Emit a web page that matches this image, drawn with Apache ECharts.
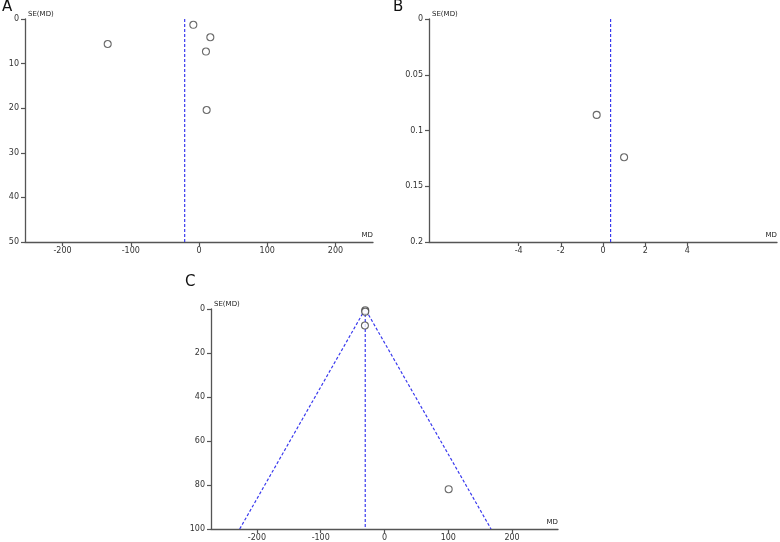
<!DOCTYPE html>
<html>
<head>
<meta charset="utf-8">
<script src="https://cdn.jsdelivr.net/npm/echarts@6/dist/echarts.min.js"></script>
<style>
  html, body { margin: 0; padding: 0; background: #fff; }
  #chart { width: 780px; height: 542px; }
</style>
</head>
<body>
<div id="chart"></div>
<script>
// panel A: [MD, SE(MD)]
var pointsA = [[-8.3, 1.3], [16.6, 4.1], [10.2, 7.3], [11.2, 20.4], [-133.8, 5.6]];
var meanA = [[-21, 0], [-21, 50]];
var ticksA = [-200, -100, 0, 100, 200];

// panel B
var pointsB = [[-0.3, 0.086], [1.0, 0.124]];
var meanB = [[0.36, 0], [0.36, 0.2]];
var ticksB = [-4, -2, 0, 2, 4];

// panel C
var pointsC = [[-30.2, 0.6], [-30.2, 1.2], [-30.7, 7.5], [100.6, 81.9]];
var meanC = [[-30.2, 0], [-30.2, 100]];
var funnelC = [[-227, 100], [-30.2, 0], [167, 100]];
var ticksC = [-200, -100, 0, 100, 200];

var myChart = echarts.init(document.getElementById('chart'));

var font = 'DejaVu Sans';
var axisColor = '#555';

function xAx(idx, min, max, ticks) {
  return {
    type: 'value', gridIndex: idx, min: min, max: max,
    name: 'MD', nameLocation: 'end', nameGap: 0,
    nameTextStyle: { align: 'right', verticalAlign: 'bottom', padding: [0, 0, 3, 0], fontSize: 7, fontFamily: font, color: '#222' },
    axisLine: { onZero: false, lineStyle: { color: axisColor, width: 1.3 } },
    axisTick: { show: true, length: 4, customValues: ticks, lineStyle: { color: axisColor, width: 1.2 } },
    axisLabel: { customValues: ticks, fontSize: 8, fontFamily: font, color: '#333', margin: 5 },
    splitLine: { show: false }
  };
}

function yAx(idx, max, interval) {
  return {
    type: 'value', gridIndex: idx, min: 0, max: max, interval: interval, inverse: true,
    name: 'SE(MD)', nameLocation: 'start', nameGap: 1,
    nameTextStyle: { align: 'left', verticalAlign: 'bottom', padding: [0, 0, 0, 3], fontSize: 7, fontFamily: font, color: '#222' },
    axisLine: { show: true, onZero: false, lineStyle: { color: axisColor, width: 1.3 } },
    axisTick: { show: true, length: 4, lineStyle: { color: axisColor, width: 1.2 } },
    axisLabel: { fontSize: 8, fontFamily: font, color: '#333', margin: 6 },
    splitLine: { show: false }
  };
}

function dashed(idx, data) {
  return {
    type: 'line', xAxisIndex: idx, yAxisIndex: idx, data: data,
    symbol: 'none', silent: true, z: 1,
    lineStyle: { color: '#3a3aee', width: 1.2, type: [3, 2] }
  };
}

function dots(idx, data) {
  return {
    type: 'scatter', xAxisIndex: idx, yAxisIndex: idx, data: data,
    symbol: 'circle', symbolSize: 7, z: 5,
    itemStyle: { color: '#fff', borderColor: '#444', borderWidth: 1.1 }
  };
}

var option = {
  animation: false,
  backgroundColor: '#fff',
  title: [
    { text: 'A', left: 2, top: 0, padding: 0, textStyle: { fontSize: 15, fontWeight: 'normal', fontFamily: font, color: '#111' } },
    { text: 'B', left: 393, top: 0, padding: 0, textStyle: { fontSize: 15, fontWeight: 'normal', fontFamily: font, color: '#111' } },
    { text: 'C', left: 185, top: 275, padding: 0, textStyle: { fontSize: 15, fontWeight: 'normal', fontFamily: font, color: '#111' } }
  ],
  grid: [
    { left: 25, top: 19, width: 348, height: 223 },
    { left: 429, top: 19, width: 348, height: 223 },
    { left: 211, top: 309, width: 347, height: 222 }
  ],
  xAxis: [
    xAx(0, -255, 255, ticksA),
    xAx(1, -8.25, 8.25, ticksB),
    xAx(2, -272, 272, ticksC)
  ],
  yAxis: [
    yAx(0, 50, 10),
    yAx(1, 0.2, 0.05),
    yAx(2, 100, 20)
  ],
  series: [
    dashed(0, meanA), dots(0, pointsA),
    dashed(1, meanB), dots(1, pointsB),
    dashed(2, meanC), dashed(2, funnelC), dots(2, pointsC)
  ]
};

option && myChart.setOption(option);
</script>
</body>
</html>
